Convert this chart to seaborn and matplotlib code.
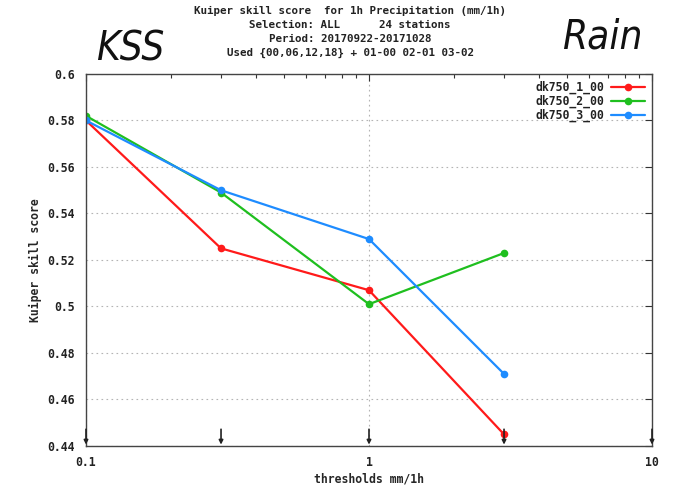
import matplotlib
matplotlib.use("Agg")
import matplotlib.pyplot as plt
import matplotlib.ticker as mticker
import numpy as np
import pandas as pd
import seaborn as sns

# Thresholds (mm/1h) and Kuiper skill scores per experiment
thresholds = [0.1, 0.3, 1.0, 3.0]
dk750_1_00 = [0.580, 0.525, 0.507, 0.445]
dk750_2_00 = [0.582, 0.549, 0.501, 0.523]
dk750_3_00 = [0.580, 0.550, 0.529, 0.471]
series_names = ["dk750_1_00", "dk750_2_00", "dk750_3_00"]
series_colors = ["#ff1a1a", "#1fbf1f", "#1e8cff"]
arrow_positions = [0.1, 0.3, 1.0, 3.0, 10.0]
y_ticks = [0.44, 0.46, 0.48, 0.5, 0.52, 0.54, 0.56, 0.58, 0.6]
x_ticks = [0.1, 1, 10]
x_tick_labels = ["0.1", "1", "10"]

title_lines = [
    "Kuiper skill score  for 1h Precipitation (mm/1h)",
    "Selection: ALL      24 stations",
    "Period: 20170922-20171028",
    "Used {00,06,12,18} + 01-00 02-01 03-02",
]

df = pd.DataFrame({
    "threshold": thresholds * 3,
    "score": dk750_1_00 + dk750_2_00 + dk750_3_00,
    "exp": sum([[n] * len(thresholds) for n in series_names], []),
})

sns.set_theme(style="white")
plt.rcParams["font.family"] = ["DejaVu Sans Mono", "DejaVu Sans"]

fig = plt.figure(figsize=(6.85, 4.88), dpi=100)
ax = fig.add_axes([86 / 685, 1 - 446 / 488, (652 - 86) / 685, (446 - 74) / 488])

sns.lineplot(
    data=df, x="threshold", y="score", hue="exp",
    palette=dict(zip(series_names, series_colors)),
    marker="o", markersize=5.5, markeredgewidth=0, linewidth=1.6,
    ax=ax,
)

ax.set_xscale("log")
ax.set_xlim(0.1, 10)
ax.set_ylim(0.44, 0.6)
ax.set_xticks(x_ticks)
ax.set_xticklabels(x_tick_labels)
ax.xaxis.set_minor_locator(mticker.LogLocator(base=10, subs=np.arange(2, 10)))
ax.xaxis.set_minor_formatter(mticker.NullFormatter())
ax.set_yticks(y_ticks)
ax.set_yticklabels([f"{v:g}" for v in y_ticks])

for lbl in ax.get_xticklabels() + ax.get_yticklabels():
    lbl.set_fontweight("bold")
    lbl.set_fontsize(8.3)
    lbl.set_color("#222222")

ax.tick_params(axis="both", which="both", direction="in", top=True, right=True,
               color="#333333", width=0.8)
ax.tick_params(axis="both", which="major", length=5)
ax.tick_params(axis="y", which="major", pad=8)
ax.tick_params(axis="x", which="major", pad=7.5)
ax.tick_params(axis="x", which="minor", length=3)

ax.grid(True, which="major", axis="both", linestyle=(0, (1.5, 3)),
        color="#b4b4b4", linewidth=0.8)
for s in ax.spines.values():
    s.set_color("#444444")
    s.set_linewidth(1.0)

ax.set_xlabel("thresholds mm/1h", fontsize=8.3, fontweight="bold", labelpad=2)
ax.set_ylabel("Kuiper skill score", fontsize=8.3, fontweight="bold", labelpad=4)

# threshold markers along the bottom axis
for xv in arrow_positions:
    ax.annotate("", xy=(xv, 0.0), xycoords=("data", "axes fraction"),
                xytext=(xv, 0.045), textcoords=("data", "axes fraction"),
                arrowprops=dict(arrowstyle="-|>", color="#222222", lw=1.2,
                                mutation_scale=6, shrinkA=0, shrinkB=1))

leg = ax.legend(loc="upper right", frameon=False, markerfirst=False,
                handlelength=3.0, handletextpad=0.5, borderaxespad=0.2,
                labelspacing=0.05,
                prop={"weight": "bold", "size": 8.3, "family": "DejaVu Sans Mono"})
for t in leg.get_texts():
    t.set_color("#222222")

for i, line in enumerate(title_lines):
    fig.text(350 / 685, 1 - (11 + i * 14) / 488, line, ha="center", va="center",
             fontsize=7.8, fontweight="bold", color="#222222")

fig.text(130 / 685, 1 - 49 / 488, "KSS", ha="center", va="center",
         fontsize=29, style="italic", fontstretch="condensed",
         family="DejaVu Sans", color="#111111")
fig.text(602 / 685, 1 - 37 / 488, "Rain", ha="center", va="center",
         fontsize=29, style="italic", fontstretch="condensed",
         family="DejaVu Sans", color="#111111")

fig.savefig("out.png", dpi=100)
